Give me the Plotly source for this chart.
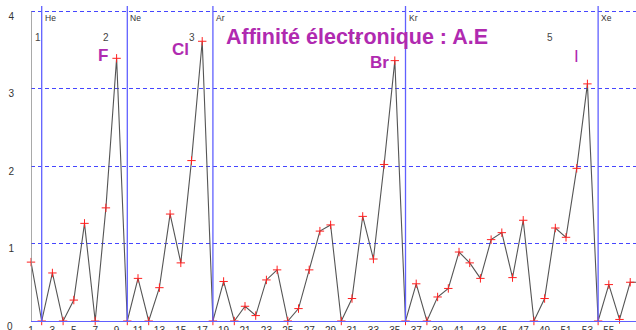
import plotly.graph_objects as go

# Atomic numbers and electron affinities (eV)
Z = list(range(1, 59))
AE = [0.76, 0.0, 0.62, 0.0, 0.27, 1.26, 0.0, 1.46, 3.39, 0.0,
      0.55, 0.0, 0.43, 1.38, 0.75, 2.07, 3.61, 0.0, 0.51, 0.0,
      0.19, 0.07, 0.53, 0.66, 0.0, 0.16, 0.66, 1.16, 1.24, 0.0,
      0.29, 1.35, 0.80, 2.02, 3.36, 0.0, 0.48, 0.0, 0.31, 0.42,
      0.89, 0.75, 0.55, 1.05, 1.14, 0.56, 1.30, 0.0, 0.29, 1.20,
      1.08, 1.97, 3.06, 0.0, 0.47, 0.02, 0.50, 0.50]

noble_z = [2, 10, 18, 36, 54]
noble_names = ["He", "Ne", "Ar", "Kr", "Xe"]

period_labels = ["1", "2", "3", "4", "5"]
period_x = [1.65, 7.98, 16.0, 31.56, 49.5]

halogen_names = ["F", "Cl", "Br", "I"]
halogen_x = [7.73, 15.0, 33.6, 52.0]
halogen_y = [3.42, 3.50, 3.34, 3.41]

x_ticks = list(range(1, 58, 2))
y_ticks = [0, 1, 2, 3, 4]

title_text = "Affinité électronique : A.E"

BLUE = "#6060ff"
GRID = "rgb(70,70,255)"
MAG = "#b02ab0"
TXT = "#333333"

fig = go.Figure()
fig.add_trace(go.Scatter(
    x=Z, y=AE, mode="lines+markers",
    line=dict(color="#555555", width=1.1),
    marker=dict(symbol="cross-thin", size=6, line=dict(color="#ff2020", width=1)),
    cliponaxis=False, showlegend=False, hoverinfo="x+y"))

shapes = []
for z in noble_z:
    shapes.append(dict(type="line", xref="x", yref="paper", x0=z, x1=z, y0=0, y1=1,
                       line=dict(color=BLUE, width=1.3), layer="above"))
shapes.append(dict(type="line", xref="x", yref="y", x0=1, x1=1, y0=0, y1=4,
                   line=dict(color="#8c8c8c", width=1.5), layer="above"))

annotations = []
for z, n in zip(noble_z, noble_names):
    annotations.append(dict(x=z, y=1, xref="x", yref="paper", text=n, showarrow=False,
                            xanchor="left", yanchor="top", xshift=1, yshift=-5,
                            font=dict(family="Liberation Sans, Arial", size=8.5, color=TXT)))
for px, t in zip(period_x, period_labels):
    annotations.append(dict(x=px, y=3.66, xref="x", yref="y", text=t, showarrow=False,
                            xanchor="center", yanchor="middle",
                            font=dict(family="Liberation Sans, Arial", size=10, color="#444")))
annotations.append(dict(x=31.47, y=3.66, xref="x", yref="y", text="<b>" + title_text + "</b>",
                        showarrow=False, xanchor="center", yanchor="middle",
                        font=dict(family="Liberation Sans, Arial", size=21.5, color=MAG)))
for n, hx, hy in zip(halogen_names, halogen_x, halogen_y):
    annotations.append(dict(x=hx, y=hy, xref="x", yref="y", text="<b>" + n + "</b>" if n != "I" else n,
                            showarrow=False, xanchor="center", yanchor="middle",
                            font=dict(family="Liberation Sans, Arial", size=17, color=MAG)))
# the lowest y tick label (hidden by plotly after shifting) drawn as text
annotations.append(dict(x=0, y=y_ticks[0], xref="paper", yref="y", text=str(y_ticks[0]),
                        showarrow=False, xanchor="right", yanchor="middle",
                        xshift=-16, yshift=-5,
                        font=dict(family="Liberation Sans, Arial", size=10, color=TXT)))

fig.update_layout(
    width=636, height=330,
    margin=dict(l=31, r=0, t=6, b=9, autoexpand=False),
    paper_bgcolor="white", plot_bgcolor="white",
    shapes=shapes, annotations=annotations,
    xaxis=dict(range=[1, 57.54], tickvals=x_ticks, ticktext=[str(v) for v in x_ticks],
               showgrid=False, zeroline=False, showline=True, linecolor=BLUE, linewidth=1.3,
               ticks="", ticklabelstandoff=0,
               tickfont=dict(family="Liberation Sans, Arial", size=10, color=TXT)),
    yaxis=dict(range=[0, 4.065], tickvals=y_ticks, showgrid=True, gridcolor=GRID,
               griddash="4px,3px", gridwidth=1, zeroline=False, showline=False,
               ticks="", ticklabelstandoff=16, ticklabelshift=5,
               tickfont=dict(family="Liberation Sans, Arial", size=10, color=TXT)),
)

fig.write_html("out.html", config={"displayModeBar": False},
               post_script="document.body.style.margin='0px';")
